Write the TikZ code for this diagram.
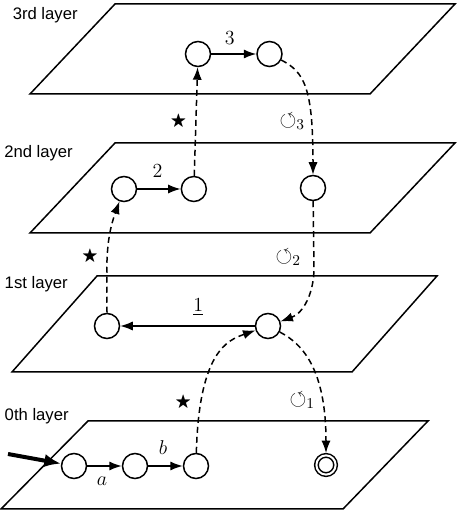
\documentclass[tikz,border=0pt]{standalone}
\usepackage{amsmath,amssymb}
\usepackage{fontspec}
\setsansfont{Liberation Sans}
\usetikzlibrary{arrows.meta,positioning}

\begin{document}
\begin{tikzpicture}[
            x=0.6pt, y=0.6pt,
            node distance=20.7pt,
            >={Latex[length=7.5pt, width=5.5pt]},
            line width=0.9pt,
            layer/.style={draw},
            state/.style={circle, draw, minimum size=15pt, inner sep=0pt},
            final/.style={state, double, double distance=1.2pt, minimum size=11.5pt, outer sep=1.4pt},
            lbl/.style={font=\sffamily, anchor=base west, inner sep=0pt},
            tag/.style={font=\fontsize{13}{15}\selectfont},
            edge/.style={->},
            jump/.style={->, dash pattern=on 3.6pt off 2.4pt},
            start/.style={-{Latex[length=10pt, width=8pt]}, line width=2.4pt}
        ]
            \useasboundingbox (0,0) rectangle (457,514);

            % Layers
            \draw[layer] (30,420) -- (370,420) -- (455,510) -- (115,510) -- cycle;
            \draw[layer] (30,281) -- (370,281) -- (455,371) -- (115,371) -- cycle;
            \draw[layer] (12,142) -- (352,142) -- (437,238) -- (97,238) -- cycle;
            \draw[layer] (1,5) -- (343,5) -- (428,93) -- (88,93) -- cycle;

            \node[lbl] (t3) at (12,494.5) {3rd layer};
            \node[lbl] (t2) at (3.5,356.7) {2nd layer};
            \node[lbl] (t1) at (4,225) {1st layer};
            \node[lbl] (t0) at (4,93) {0th layer};

            % Nodes - Layer 0
            \node[state] (q0) at (74,48) {};
            \node[state, right=of q0] (q1) {};
            \node[state, right=of q1] (q2) {};
            \node[final] (qf) at (326,49) {};

            % Nodes - Layer 1
            \node[state] (a1) at (107,188) {};
            \node[state] (b1) at (268,188) {};

            % Nodes - Layer 2
            \node[state] (a2) at (124,325) {};
            \node[state, right=26pt of a2] (b2) {};
            \node[state] (c2) at (313,326) {};

            % Nodes - Layer 3
            \node[state] (a3) at (198,460) {};
            \node[state, right=27pt of a3] (b3) {};

            % Arrows inside the layers
            \coordinate (init) at (8,60);
            \draw[start] (init) -- (q0);
            \draw[edge] (q0) -- node[tag, below=2.5pt, pos=0.43] {$a$} (q1);
            \draw[edge] (q1) -- node[tag, above=3pt, pos=0.43] {$b$} (q2);
            \draw[edge] (b1) -- node[tag, above=2.6pt, pos=0.42] {$\underline{1}$} (a1);
            \draw[edge] (a2) -- node[tag, above=3pt, pos=0.47] {$2$} (b2);
            \draw[edge] (a3) -- node[tag, above=2.2pt, pos=0.41] {$3$} (b3);

            % Jumps between layers
            \draw[jump] (q2) .. controls +(3,115) and +(-40,-14) .. (b1)
                node[left=2pt, pos=0.2] {$\bigstar$};
            \draw[jump] (b1) .. controls +(35,-18) and +(0,95) .. (qf)
                node[tag, left=0.5pt, pos=0.75] {$\circlearrowleft_1$};
            \draw[jump] (a1) to[out=90, in=250] node[left=2pt] {$\bigstar$} (a2);
            \draw[jump] (c2) -- node[tag, left=4pt, pos=0.84] {$\circlearrowleft_2$} ++(1,-80)
                to[out=-90, in=20] (b1);
            \draw[jump] (b2) -- node[left=2pt] {$\bigstar$} (a3);
            \draw[jump] (b3) .. controls +(35,-18) and +(0,100) .. (c2)
                node[tag, left=0pt, pos=0.75] {$\circlearrowleft_3$};
        \end{tikzpicture}
\end{document}
